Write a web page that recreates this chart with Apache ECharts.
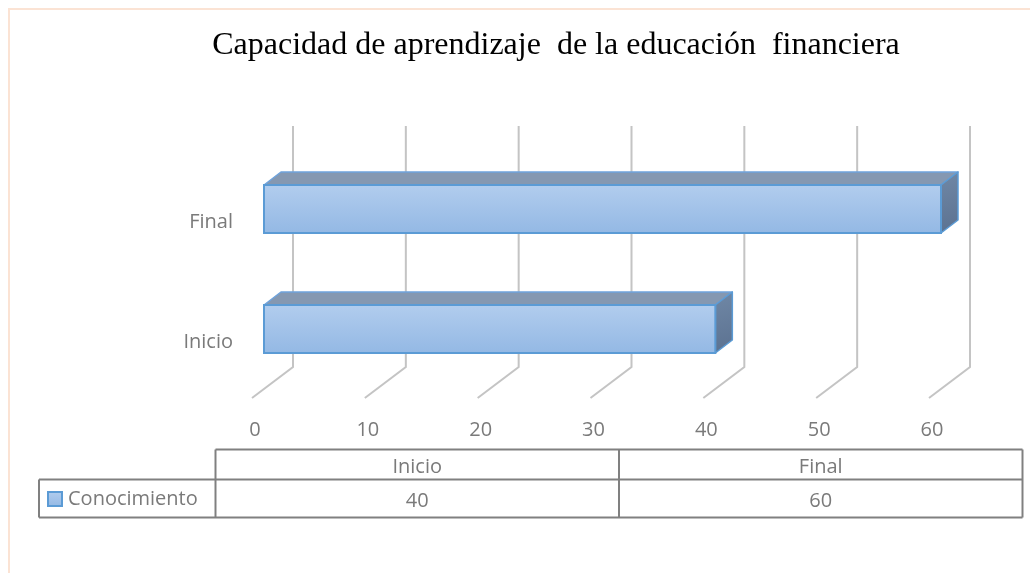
<!DOCTYPE html>
<html><head><meta charset="utf-8">
<script src="https://cdn.jsdelivr.net/npm/echarts@6/dist/echarts.min.js"></script>
<style>html,body{margin:0;padding:0;background:#fff}#c{width:1030px;height:573px}</style>
</head><body><div id="c"></div>
<script>
const categories = ['Inicio', 'Final'];
const seriesName = 'Conocimiento';
const values = [40, 60];
const xTicks = [0, 10, 20, 30, 40, 50, 60];
const titleText = 'Capacidad de aprendizaje  de la educación  financiera';

const chart = echarts.init(document.getElementById('c'), null, {renderer: 'canvas'});

// 3D depth geometry (pixels)
const DEPTH = {bx: 17, by: -13, wallDx: 29, wallTop: -23, wallBot: -22, floorDx: -12, floorDy: 9};
const gray = '#7a7a7a';
const font = 'Open Sans';
const fs = 20;

const frontGrad = new echarts.graphic.LinearGradient(0, 0, 0, 1, [
  {offset: 0, color: '#b2cdee'}, {offset: 1, color: '#93b8e4'}]);
const sideGrad = new echarts.graphic.LinearGradient(0, 0, 1, 1, [
  {offset: 0, color: '#7088a6'}, {offset: 1, color: '#5b7190'}]);

function renderGridlines(params, api) {
  const cs = params.coordSys;
  const xf = api.coord([api.value(0), 0])[0];
  const bottom = cs.y + cs.height;
  return {
    type: 'polyline',
    shape: {points: [
      [xf + DEPTH.wallDx, cs.y + DEPTH.wallTop],
      [xf + DEPTH.wallDx, bottom + DEPTH.wallBot],
      [xf + DEPTH.floorDx, bottom + DEPTH.floorDy]
    ]},
    style: {stroke: '#c4c4c4', lineWidth: 2, fill: null}
  };
}

function renderBars(params, api) {
  const catIdx = api.value(1);
  const end = api.coord([api.value(0), catIdx]);
  const start = api.coord([0, catIdx]);
  const h = api.size([0, 1])[1] * 0.4;
  const x0 = start[0], x1 = end[0];
  const yt = end[1] - h / 2, yb = end[1] + h / 2;
  const bx = DEPTH.bx, by = DEPTH.by;
  return {
    type: 'group',
    children: [
      {type: 'polygon', shape: {points: [[x0, yt], [x0 + bx, yt + by], [x1 + bx, yt + by], [x1, yt]]},
        style: {fill: '#8598b1', stroke: '#6fa3dc', lineWidth: 1.5, lineJoin: 'round'}},
      {type: 'polygon', shape: {points: [[x1, yt], [x1 + bx, yt + by], [x1 + bx, yb + by], [x1, yb]]},
        style: {fill: sideGrad, stroke: '#5b9bd5', lineWidth: 1.5, lineJoin: 'round'}},
      {type: 'rect', shape: {x: x0, y: yt, width: x1 - x0, height: yb - yt},
        style: {fill: frontGrad, stroke: '#5b9bd5', lineWidth: 2}}
    ]
  };
}

// data table layout
const T = {left: 215.5, right: 1022.5, headTop: 449.5, rowTop: 479.5, bottom: 517.5, legendLeft: 39};
const colW = (T.right - T.left) / categories.length;
const lineStyle = {stroke: '#808080', lineWidth: 2};
const tableGraphics = [];
// outer border of chart area
tableGraphics.push({type: 'rect', shape: {x: 9, y: 9, width: 1100, height: 700},
  style: {fill: 'none', stroke: '#fbe3d4', lineWidth: 2}, silent: true});
function hline(x1, x2, y) { tableGraphics.push({type: 'line', shape: {x1, y1: y, x2, y2: y}, style: lineStyle}); }
function vline(x, y1, y2) { tableGraphics.push({type: 'line', shape: {x1: x, y1, x2: x, y2}, style: lineStyle}); }
hline(T.left, T.right, T.headTop);
hline(T.legendLeft, T.right, T.rowTop);
hline(T.legendLeft, T.right, T.bottom);
vline(T.legendLeft, T.rowTop, T.bottom);
for (let i = 0; i <= categories.length; i++) vline(T.left + i * colW, T.headTop, T.bottom);
categories.forEach((c, i) => {
  const cx = T.left + (i + 0.5) * colW;
  tableGraphics.push({type: 'text', style: {x: cx, y: (T.headTop + T.rowTop) / 2 + 3, text: c,
    fill: gray, font: fs + 'px "' + font + '"', align: 'center', verticalAlign: 'middle'}});
  tableGraphics.push({type: 'text', style: {x: cx, y: (T.rowTop + T.bottom) / 2 + 3, text: String(values[i]),
    fill: gray, font: fs + 'px "' + font + '"', align: 'center', verticalAlign: 'middle'}});
});

const option = {
  backgroundColor: '#ffffff',
  animation: false,
  title: {
    text: titleText, left: 556, top: 30, textAlign: 'center', padding: 0,
    textStyle: {fontFamily: 'Liberation Serif', fontSize: 32, fontWeight: 'normal', color: '#000'}
  },
  legend: {
    data: [seriesName], left: 47, top: 489, padding: 0, icon: 'rect', itemWidth: 14, itemHeight: 14, itemGap: 4,
    textStyle: {color: gray, fontSize: fs, fontFamily: font, padding: [0, 0, 0, 1]}
  },
  grid: {left: 264, top: 149, width: 677, height: 240, outerBoundsMode: 'none'},
  xAxis: {
    type: 'value', min: 0, max: 60, interval: 10,
    splitLine: {show: false}, axisLine: {show: false}, axisTick: {show: false},
    axisLabel: {color: gray, fontSize: fs, fontFamily: font, margin: 31, padding: [0, 18, 0, 0],
      formatter: v => xTicks.includes(v) ? String(v) : ''}
  },
  yAxis: {
    type: 'category', data: categories,
    axisLine: {show: false}, axisTick: {show: false}, splitLine: {show: false},
    axisLabel: {color: gray, fontSize: fs, fontFamily: font, margin: 31, verticalAlign: 'top', padding: [3, 0, 0, 0]}
  },
  graphic: tableGraphics,
  series: [
    {type: 'custom', name: 'grid3d', renderItem: renderGridlines, data: xTicks.map(v => [v]),
      silent: true, z: 1, encode: {x: 0}},
    {type: 'custom', name: seriesName, renderItem: renderBars,
      data: values.map((v, i) => [v, i]), z: 2, encode: {x: 0, y: 1},
      itemStyle: {color: frontGrad, borderColor: '#5b9bd5', borderWidth: 1}}
  ]
};
chart.setOption(option);
</script>
</body></html>
